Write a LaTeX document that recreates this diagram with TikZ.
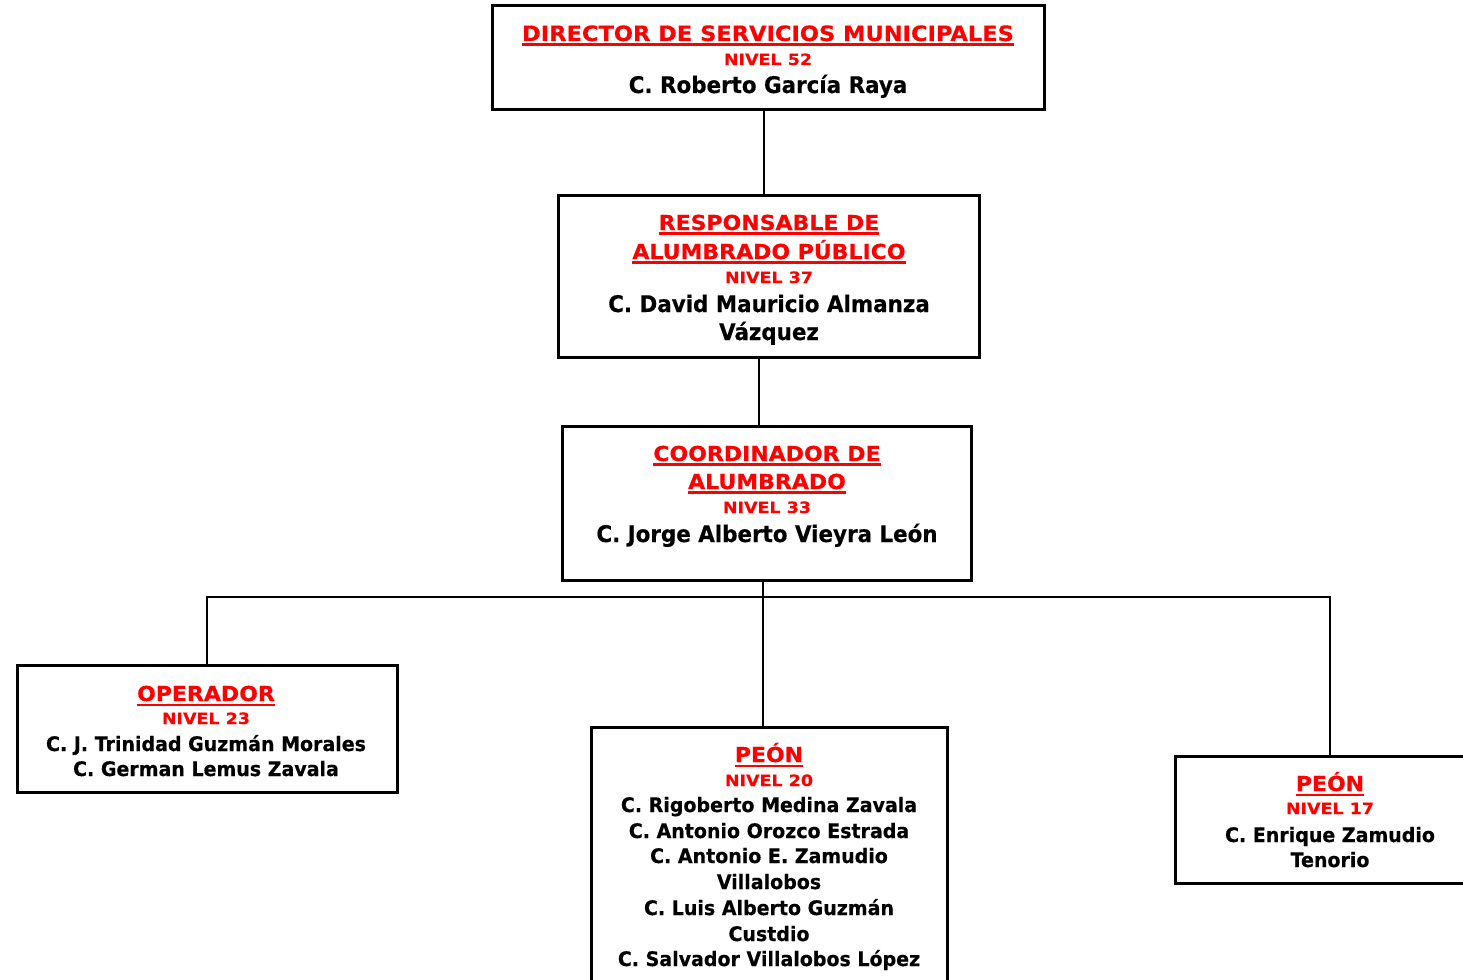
\documentclass[tikz,border=0pt]{standalone}
\usepackage{fontspec}
\setmainfont{DejaVu Sans}[BoldFont={DejaVu Sans Bold}]
\newfontfamily\ttlfont[FakeStretch=1.068,FakeBold=0.4]{DejaVu Sans Bold}
\newfontfamily\nivfont[FakeStretch=1.12,FakeBold=0.4]{DejaVu Sans Bold}
\newfontfamily\namfont[FakeStretch=0.935,FakeBold=0.4]{DejaVu Sans Bold}
\newfontfamily\namsfont[FakeStretch=0.95,FakeBold=0.4]{DejaVu Sans Bold}
\definecolor{orgred}{RGB}{255,0,0}
\newcommand\myul[1]{\leavevmode\vtop{\hbox{#1}\kern2.2pt\hrule height 2.2pt}}
\tikzset{
  x=1pt, y=-1pt,
  orgbox/.style={draw=black, line width=3pt, rectangle, inner sep=0pt},
  conn/.style={draw=black, line width=1.2pt},
  ttl/.style={anchor=base, inner sep=0pt, text=orgred, font=\ttlfont\fontsize{20.6}{26}\selectfont},
  niv/.style={anchor=base, inner sep=0pt, text=orgred, font=\nivfont\fontsize{15.6}{20}\selectfont},
  nam/.style={anchor=base, inner sep=0pt, text=black, font=\namfont\fontsize{22.9}{26}\selectfont},
  nams/.style={anchor=base, inner sep=0pt, text=black, font=\namsfont\fontsize{20}{24}\selectfont},
}
\begin{document}
\begin{tikzpicture}
\useasboundingbox (0,0) rectangle (1463,979);
\clip (0,0) rectangle (1463,979);
\fill[white] (0,0) rectangle (1463,979);
% boxes
\node[orgbox, minimum width=552, minimum height=104] (b1) at (768,58) {};
\node[orgbox, minimum width=421, minimum height=162] (b2) at (768.5,276) {};
\node[orgbox, minimum width=409, minimum height=154] (b3) at (766.5,503) {};
\node[orgbox, minimum width=380, minimum height=127] (b4) at (207,728.5) {};
\node[orgbox, minimum width=356, minimum height=290] (b5) at (769,872) {};
\node[orgbox, minimum width=310, minimum height=127] (b6) at (1330,819.5) {};
\coordinate (j) at (763,597);
% connectors
\draw[conn] ([xshift=-4pt]b1.south) -- ([xshift=-4.5pt]b2.north);
\draw[conn] ([xshift=-9.5pt]b2.south) -- ([xshift=-7.5pt]b3.north);
\draw[conn] ([xshift=-3.5pt]b3.south) -- (j);
\draw[conn] (b4.north) |- (j) -| (b6.north);
\draw[conn] (j) -- (j |- b5.north);
% box 1
\node[ttl] (t1a) at (768,41) {\fontsize{21.1}{26}\selectfont\myul{DIRECTOR DE SERVICIOS MUNICIPALES}};
\node[niv] (t1b) at (768,65) {NIVEL 52};
\node[nam] (t1c) at (768,93) {C. Roberto García Raya};
% box 2
\node[ttl] (t2a) at (769,230) {\myul{RESPONSABLE DE}};
\node[ttl] (t2b) at (769,259) {\myul{ALUMBRADO PÚBLICO}};
\node[niv] (t2c) at (769,283) {NIVEL 37};
\node[nam] (t2d) at (769,312) {C. David Mauricio Almanza};
\node[nam] (t2e) at (769,340) {Vázquez};
% box 3
\node[ttl] (t3a) at (767,461) {\myul{COORDINADOR DE}};
\node[ttl] (t3b) at (767,489) {\myul{ALUMBRADO}};
\node[niv] (t3c) at (767,513) {NIVEL 33};
\node[nam] (t3d) at (767,542) {C. Jorge Alberto Vieyra León};
% box 4
\node[ttl] (t4a) at (206,701) {\myul{OPERADOR}};
\node[niv] (t4b) at (206,724) {NIVEL 23};
\node[nams] (t4c) at (206,751) {C. J. Trinidad Guzmán Morales};
\node[nams] (t4d) at (206,776) {C. German Lemus Zavala};
% box 5
\node[ttl] (t5a) at (769,762) {\myul{PEÓN}};
\node[niv] (t5b) at (769,786) {NIVEL 20};
\node[nams] (t5c) at (769,812) {C. Rigoberto Medina Zavala};
\node[nams] (t5d) at (769,838) {C. Antonio Orozco Estrada};
\node[nams] (t5e) at (769,863) {C. Antonio E. Zamudio};
\node[nams] (t5f) at (769,889) {Villalobos};
\node[nams] (t5g) at (769,915) {C. Luis Alberto Guzmán};
\node[nams] (t5h) at (769,941) {Custdio};
\node[nams] (t5i) at (769,966) {C. Salvador Villalobos López};
% box 6
\node[ttl] (t6a) at (1330,791) {\myul{PEÓN}};
\node[niv] (t6b) at (1330,814) {NIVEL 17};
\node[nams] (t6c) at (1330,842) {C. Enrique Zamudio};
\node[nams] (t6d) at (1330,867) {Tenorio};
\end{tikzpicture}
\end{document}
